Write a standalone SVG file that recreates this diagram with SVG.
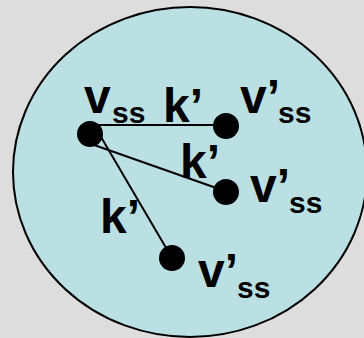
<svg xmlns="http://www.w3.org/2000/svg" width="364" height="338" viewBox="0 0 364 338">
<style>
.t{font-family:"Liberation Sans",Arial,sans-serif;font-weight:bold;fill:#000}
.m{font-size:48px}
.s{font-size:30px}
.e{stroke:#000;stroke-width:2;fill:none}
.d{fill:#000}
</style>
<rect width="364" height="338" fill="#dddddd"/>
<g id="region">
<ellipse cx="190" cy="172" rx="177" ry="165" fill="#bae0e3" stroke="#000" stroke-width="2"/>
</g>
<g id="connectors">
<line class="e" x1="90" y1="125" x2="226" y2="125"/>
<line class="e" x1="80" y1="140" x2="222" y2="190"/>
<line class="e" x1="101" y1="137" x2="172" y2="258"/>
<text class="t m" x="163" y="122">k’</text>
<text class="t m" x="180" y="178">k’</text>
<text class="t m" x="100" y="233">k’</text>
</g>
<g id="vss">
<circle class="d" cx="90" cy="134" r="13"/>
<text class="t m" x="84" y="113">v</text>
<text class="t s" x="112" y="123">ss</text>
</g>
<g id="v1">
<circle class="d" cx="226" cy="126" r="13"/>
<text class="t m" x="240" y="113">v’</text>
<text class="t s" x="278" y="123">ss</text>
</g>
<g id="v2">
<circle class="d" cx="226" cy="192" r="13"/>
<text class="t m" x="250" y="202">v’</text>
<text class="t s" x="289" y="213">ss</text>
</g>
<g id="v3">
<circle class="d" cx="172" cy="258" r="13"/>
<text class="t m" x="198" y="287">v’</text>
<text class="t s" x="237" y="298">ss</text>
</g>
</svg>
